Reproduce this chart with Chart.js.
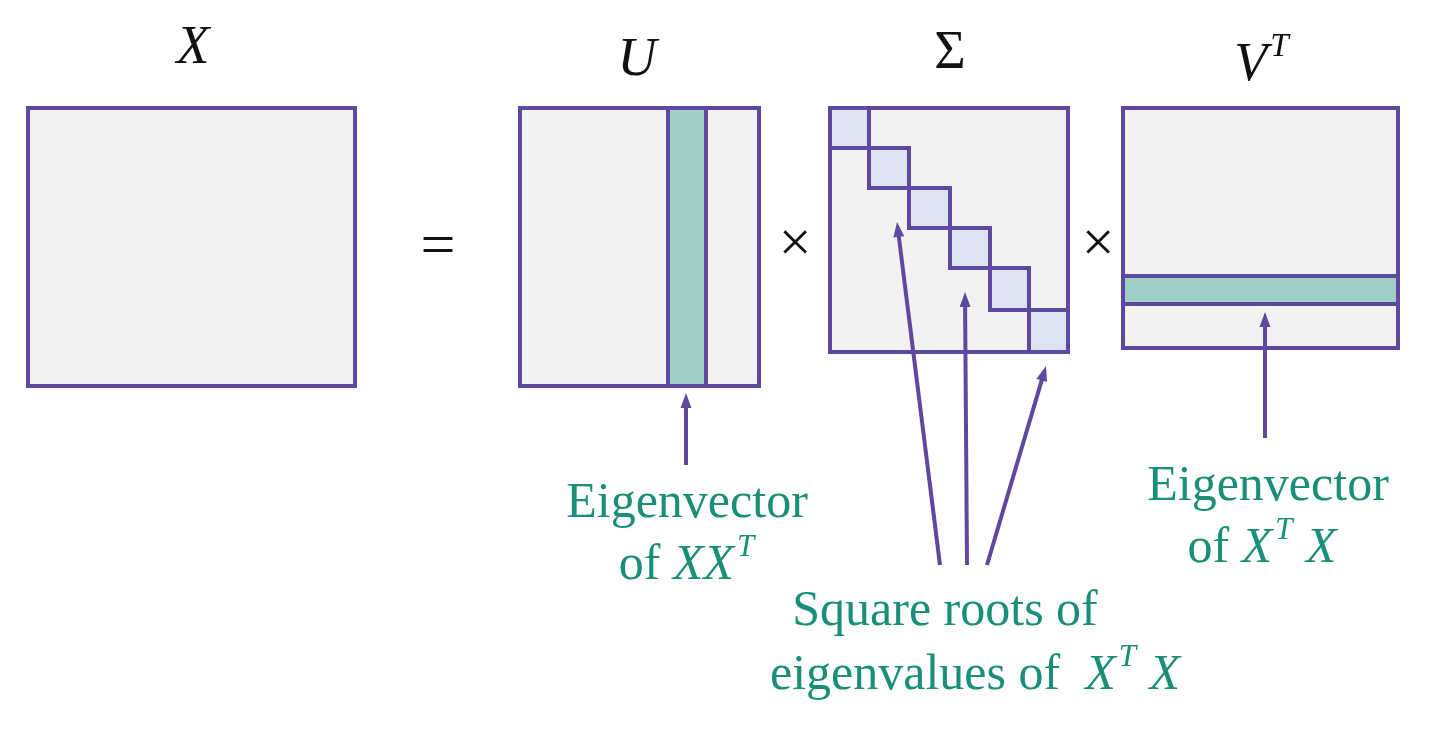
<!DOCTYPE html>
<html>
<head>
<meta charset="utf-8">
<script src="https://cdn.jsdelivr.net/npm/chart.js@4"></script>
<style>
  html, body { margin: 0; padding: 0; background: #fff; }
  #wrap { position: relative; width: 1429px; height: 739px; }
</style>
</head>
<body>
<div id="wrap"><canvas id="svd"></canvas></div>
<script>
// Diagram geometry in data units (x: 0..1429, y: 0..739 top-down)
const boxes = [
  [28, 108, 355, 386],    // X
  [520, 108, 759, 386],   // U
  [830, 108, 1068, 352],  // Sigma
  [1123, 108, 1398, 348]  // V^T
];
const bands = [
  [668, 108, 706, 386],   // column of U
  [1123, 276, 1398, 304]  // row of V^T
];
const diagCells = [
  [830, 108, 869, 148], [869, 148, 909, 188], [909, 188, 950, 228],
  [950, 228, 990, 268], [990, 268, 1029, 310], [1029, 310, 1068, 352]
];
const arrows = [
  [686, 465, 686, 393],
  [1265, 438, 1265, 312],
  [940, 565, 897, 222],
  [967, 565, 965, 292],
  [987, 565, 1046, 366]
];
// labels: [x, y, size, colour key, pieces]; piece = [text, italic, superscript]
const labels = [
  [193, 45, 54, 'k', [['X', 1, 0]]],
  [637, 57, 54, 'k', [['U', 1, 0]]],
  [950, 50, 54, 'k', [['Σ', 0, 0]]],
  [1262, 62, 54, 'k', [['V', 1, 0], ['T', 1, 1]]],
  [438, 245, 62, 'k', [['=', 0, 0]]],
  [795, 242, 58, 'k', [['×', 0, 0]]],
  [1098, 242, 58, 'k', [['×', 0, 0]]],
  [687, 500, 50, 'g', [['Eigenvector', 0, 0]]],
  [687, 562, 50, 'g', [['of ', 0, 0], ['XX', 1, 0], ['T', 1, 1]]],
  [1268, 483, 50, 'g', [['Eigenvector', 0, 0]]],
  [1262, 545, 50, 'g', [['of ', 0, 0], ['X', 1, 0], ['T', 1, 1], [' X', 1, 0]]],
  [945, 608, 50, 'g', [['Square roots of', 0, 0]]],
  [975, 672, 50, 'g', [['eigenvalues of  ', 0, 0], ['X', 1, 0], ['T', 1, 1], [' X', 1, 0]]]
];

const PURPLE = '#5f48a0';
const GRAY = '#f2f2f2';
const TEAL = '#9fcfc7';
const CELL = '#dce4f2';
const colours = { k: '#111', g: '#1a8f78' };
const FONT = '"Liberation Serif", "DejaVu Serif", serif';

const diagram = {
  id: 'diagram',
  afterDatasetsDraw(chart) {
    const { ctx } = chart;
    const sx = chart.scales.x, sy = chart.scales.y;
    const px = v => sx.getPixelForValue(v), py = v => sy.getPixelForValue(v);
    const rect = (r, fill, lw) => {
      const x = px(r[0]), y = py(r[1]), w = px(r[2]) - x, h = py(r[3]) - y;
      ctx.fillStyle = fill; ctx.fillRect(x, y, w, h);
      ctx.lineWidth = lw; ctx.strokeStyle = PURPLE; ctx.strokeRect(x, y, w, h);
    };
    ctx.save();
    boxes.forEach(b => rect(b, GRAY, 4));
    bands.forEach(b => rect(b, TEAL, 4));
    diagCells.forEach(c => rect(c, CELL, 4));

    ctx.strokeStyle = PURPLE; ctx.fillStyle = PURPLE; ctx.lineWidth = 4;
    arrows.forEach(a => {
      const x1 = px(a[0]), y1 = py(a[1]), x2 = px(a[2]), y2 = py(a[3]);
      const ang = Math.atan2(y2 - y1, x2 - x1), L = 16, W = 0.35;
      const bx = x2 - (L - 2) * Math.cos(ang), by = y2 - (L - 2) * Math.sin(ang);
      ctx.beginPath(); ctx.moveTo(x1, y1); ctx.lineTo(bx, by); ctx.stroke();
      ctx.beginPath();
      ctx.moveTo(x2, y2);
      ctx.lineTo(x2 - L * Math.cos(ang - W), y2 - L * Math.sin(ang - W));
      ctx.lineTo(x2 - L * Math.cos(ang + W), y2 - L * Math.sin(ang + W));
      ctx.closePath(); ctx.fill();
    });

    ctx.textBaseline = 'alphabetic';
    ctx.textAlign = 'left';
    labels.forEach(([x, y, size, col, pieces]) => {
      const supSize = Math.round(size * 0.62);
      const fontOf = p => (p[1] ? 'italic ' : '') + (p[2] ? supSize : size) + 'px ' + FONT;
      let total = 0;
      pieces.forEach(p => { ctx.font = fontOf(p); total += ctx.measureText(p[0]).width + (p[2] ? 4 : 0); });
      let cx = px(x) - total / 2;
      const base = py(y) + size * 0.33;
      ctx.fillStyle = colours[col];
      pieces.forEach(p => {
        ctx.font = fontOf(p);
        ctx.fillText(p[0], cx + (p[2] ? 3 : 0), p[2] ? base - size * 0.45 : base);
        cx += ctx.measureText(p[0]).width + (p[2] ? 4 : 0);
      });
    });
    ctx.restore();
  }
};

new Chart(document.getElementById('svd'), {
  type: 'scatter',
  data: { datasets: [{ data: [], pointRadius: 0 }] },
  options: {
    responsive: true,
    maintainAspectRatio: false,
    animation: false,
    layout: { padding: 0 },
    plugins: { legend: { display: false }, tooltip: { enabled: false } },
    scales: {
      x: { type: 'linear', min: 0, max: 1429, display: false },
      y: { type: 'linear', min: 0, max: 739, reverse: true, display: false }
    }
  },
  plugins: [diagram]
});
</script>
</body>
</html>
